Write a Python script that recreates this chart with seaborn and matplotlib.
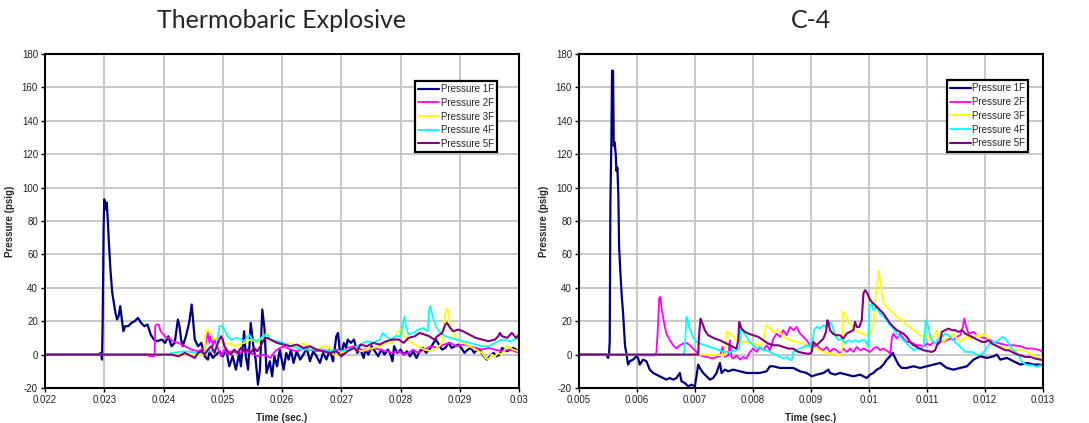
import matplotlib
matplotlib.use("Agg")
import matplotlib.pyplot as plt
import pandas as pd
import seaborn as sns

# Gauge traces, (time in ms, pressure in psig)
# ---- Thermobaric explosive ----
tb_1f = [(22.0, 0), (22.89, 0), (22.946, 1), (22.962, -3), (22.973, 19), (22.989, 75), (23.0, 93),
         (23.027, 87), (23.043, 91), (23.059, 81), (23.081, 65), (23.108, 49), (23.135, 37), (23.162, 31),
         (23.189, 25), (23.216, 21), (23.243, 23), (23.27, 29), (23.297, 21), (23.324, 14), (23.351, 17),
         (23.405, 17), (23.459, 19), (23.514, 20), (23.568, 22), (23.622, 19), (23.676, 17), (23.73, 18),
         (23.784, 12), (23.838, 9), (23.892, 8), (23.973, 9), (24.027, 7), (24.081, 11), (24.135, 5),
         (24.189, 7), (24.243, 21), (24.27, 17), (24.297, 9), (24.324, 5), (24.378, 11), (24.432, 19),
         (24.476, 30), (24.528, 9), (24.583, 5), (24.639, 7), (24.694, -1), (24.75, -3), (24.778, 2),
         (24.833, -2), (24.889, 0), (24.944, 2), (25.0, -1), (25.056, 3), (25.111, -7), (25.167, -1),
         (25.222, -9), (25.278, 1), (25.306, -7), (25.361, 14), (25.389, -1), (25.428, -9), (25.472, 19),
         (25.517, 5), (25.556, -3), (25.594, -18), (25.628, -9), (25.667, 27), (25.706, 15), (25.739, -11),
         (25.794, -4), (25.833, -13), (25.872, -1), (25.917, -7), (25.961, 3), (26.028, -9), (26.072, 1),
         (26.111, -3), (26.15, 3), (26.194, -5), (26.25, 2), (26.306, -3), (26.361, 0), (26.417, 4),
         (26.472, -4), (26.528, 2), (26.583, -1), (26.639, -5), (26.694, 1), (26.75, -3), (26.806, 3),
         (26.861, -4), (26.917, 11), (26.946, 13), (26.973, 3), (27.0, -1), (27.043, 7), (27.081, 4),
         (27.108, 9), (27.162, 7), (27.216, 9), (27.27, 1), (27.324, 3), (27.378, -2), (27.405, 3),
         (27.459, 0), (27.514, 5), (27.568, 2), (27.622, -1), (27.676, 3), (27.73, 0), (27.784, 3),
         (27.822, 1), (27.865, -4), (27.892, 5), (27.946, 1), (28.0, 3), (28.054, 0), (28.108, 2),
         (28.162, -1), (28.216, 2), (28.27, -2), (28.324, 2), (28.378, 4), (28.432, 1), (28.486, 3),
         (28.541, 6), (28.595, 9), (28.649, 6), (28.703, 3), (28.757, 4), (28.811, 7), (28.865, 4),
         (28.919, 5), (28.973, 6), (29.027, 4), (29.081, 1), (29.135, 3), (29.189, 4), (29.243, 1),
         (29.297, 3), (29.351, 2), (29.405, -1), (29.459, -3), (29.514, -1), (29.568, 1), (29.622, -1),
         (29.676, 0), (29.714, 4), (29.8, 2), (29.9, 4), (30.0, 2)]

tb_2f = [(22.0, 0), (23.74, 0), (23.76, -1), (23.85, -1), (23.86, 17), (23.88, 18), (23.92, 18),
         (23.95, 14), (24.0, 12), (24.05, 10), (24.1, 10), (24.15, 8), (24.25, 7), (24.361, 5),
         (24.472, 3), (24.583, 2), (24.694, 4), (24.75, 13), (24.778, 7), (24.806, 12), (24.833, 5),
         (24.861, 9), (24.917, 4), (24.972, -1), (25.028, 3), (25.083, 0), (25.139, 2), (25.25, 1),
         (25.361, 2), (25.472, 1), (25.583, -1), (25.694, 0), (25.75, -1), (25.806, -2), (25.861, 1),
         (25.917, 3), (25.972, 4), (26.028, 5), (26.083, 4), (26.139, 3), (26.25, 2), (26.361, 4),
         (26.472, 3), (26.583, 2), (26.694, 3), (26.806, 2), (26.917, 3), (27.0, 1), (27.108, 4),
         (27.216, 5), (27.324, 3), (27.432, 2), (27.541, 4), (27.649, 3), (27.757, 2), (27.865, 1),
         (27.973, 2), (28.054, 0), (28.135, 1), (28.216, 3), (28.297, 1), (28.405, 3), (28.514, 5),
         (28.622, 4), (28.73, 6), (28.838, 7), (28.946, 5), (29.054, 6), (29.162, 5), (29.27, 4),
         (29.378, 3), (29.486, 4), (29.595, 3), (29.703, 2), (29.85, 3), (30.0, 1)]

tb_3f = [(22.0, 0), (24.69, 0), (24.711, 14), (24.75, 15), (24.794, 13), (24.833, 9), (24.889, 10),
         (24.944, 7), (25.0, 8), (25.056, 6), (25.111, 7), (25.194, 5), (25.278, 6), (25.361, 7),
         (25.472, 9), (25.583, 7), (25.694, 11), (25.75, 13), (25.806, 9), (25.917, 7), (26.028, 6),
         (26.139, 7), (26.25, 5), (26.361, 7), (26.472, 4), (26.583, 3), (26.694, 5), (26.806, 4),
         (26.85, 1), (26.9, -1), (27.0, 1), (27.108, 3), (27.216, 4), (27.324, 2), (27.432, 3),
         (27.541, 4), (27.649, 5), (27.757, 7), (27.865, 7), (27.946, 13), (28.0, 15), (28.054, 11),
         (28.108, 9), (28.189, 7), (28.297, 5), (28.405, 3), (28.514, 2), (28.622, 4), (28.703, 7),
         (28.757, 25), (28.784, 28), (28.811, 25), (28.838, 17), (28.892, 13), (28.946, 9), (29.054, 7),
         (29.162, 5), (29.27, 3), (29.378, 1), (29.432, -2), (29.486, -3), (29.541, 0), (29.595, -1),
         (29.649, 1), (29.703, 0), (29.8, 5), (29.9, 3), (30.0, 2)]

tb_4f = [(22.0, 0), (24.1, 0), (24.139, 1), (24.361, 2), (24.583, 1), (24.806, 2), (24.889, 4),
         (24.944, 17), (25.0, 17), (25.039, 14), (25.083, 11), (25.139, 9), (25.25, 10), (25.306, 9),
         (25.361, 8), (25.444, 12), (25.5, 9), (25.583, 8), (25.639, 10), (25.694, 11), (25.75, 12),
         (25.806, 9), (25.917, 8), (26.028, 7), (26.139, 5), (26.25, 4), (26.361, 3), (26.472, 3),
         (26.583, 3), (26.694, 3), (26.806, 2), (26.917, 2), (27.0, 2), (27.108, 3), (27.216, 4),
         (27.324, 6), (27.432, 8), (27.541, 7), (27.649, 9), (27.703, 13), (27.757, 11), (27.838, 9),
         (27.919, 11), (28.0, 11), (28.038, 18), (28.07, 23), (28.092, 17), (28.135, 12), (28.216, 13),
         (28.297, 15), (28.378, 16), (28.459, 14), (28.486, 27), (28.503, 29), (28.541, 23), (28.595, 17),
         (28.676, 13), (28.757, 11), (28.838, 10), (28.946, 9), (29.054, 8), (29.162, 7), (29.27, 6),
         (29.378, 5), (29.486, 5), (29.595, 7), (29.649, 8), (29.714, 9), (29.85, 8), (30.0, 10)]

tb_5f = [(22.0, 0), (24.139, 0), (24.25, -1), (24.361, 1), (24.472, -1), (24.528, -2), (24.583, 1),
         (24.639, 2), (24.694, 0), (24.75, 3), (24.806, 5), (24.861, 1), (24.917, 7), (24.972, 11),
         (25.0, 9), (25.028, 5), (25.083, 2), (25.139, 0), (25.194, 3), (25.25, 1), (25.306, 4),
         (25.361, 2), (25.417, 3), (25.472, 1), (25.528, 4), (25.583, 2), (25.639, 5), (25.694, 9),
         (25.75, 10), (25.806, 9), (25.917, 7), (26.028, 6), (26.139, 5), (26.25, 6), (26.361, 4),
         (26.472, 5), (26.583, 3), (26.694, 2), (26.806, 1), (26.917, 2), (27.0, -1), (27.108, 2),
         (27.216, 4), (27.27, 2), (27.324, 6), (27.432, 5), (27.541, 7), (27.649, 6), (27.757, 8),
         (27.865, 9), (27.973, 9), (28.054, 7), (28.135, 10), (28.243, 11), (28.324, 13), (28.405, 12),
         (28.486, 11), (28.568, 9), (28.622, 11), (28.703, 13), (28.757, 18), (28.784, 19), (28.838, 16),
         (28.892, 14), (28.973, 15), (29.054, 14), (29.162, 12), (29.27, 10), (29.378, 9), (29.486, 8),
         (29.595, 9), (29.649, 11), (29.676, 13), (29.714, 11), (29.8, 10), (29.88, 13), (29.95, 10),
         (30.0, 12)]

# ---- C-4 ----
c4_1f = [(5.0, 0), (5.472, 0), (5.501, -2), (5.518, 0), (5.53, 8), (5.541, 90), (5.558, 128),
         (5.57, 170), (5.587, 170), (5.599, 125), (5.616, 127), (5.633, 120), (5.645, 110), (5.662, 112),
         (5.679, 95), (5.691, 65), (5.714, 49), (5.737, 35), (5.76, 25), (5.777, 15), (5.794, 5),
         (5.817, 1), (5.846, -6), (5.875, -4), (5.932, -3), (5.99, -1), (6.019, -2), (6.047, -6),
         (6.105, -3), (6.163, -4), (6.22, -9), (6.278, -11), (6.335, -12), (6.393, -13), (6.45, -14),
         (6.508, -15), (6.565, -14), (6.623, -15), (6.681, -14), (6.738, -11), (6.767, -16), (6.824, -17),
         (6.882, -19), (6.94, -18), (6.997, -19), (7.026, -13), (7.055, -6), (7.083, -8), (7.141, -11),
         (7.199, -13), (7.256, -15), (7.314, -14), (7.371, -11), (7.429, -5), (7.458, -11), (7.515, -9),
         (7.573, -10), (7.659, -9), (7.774, -10), (7.889, -11), (8.004, -11), (8.119, -11), (8.235, -10),
         (8.292, -7), (8.35, -7), (8.465, -8), (8.58, -8), (8.695, -8), (8.753, -9), (8.81, -10),
         (8.925, -11), (9.012, -13), (9.098, -12), (9.213, -11), (9.299, -9), (9.328, -11), (9.414, -12),
         (9.501, -11), (9.616, -12), (9.731, -13), (9.846, -12), (9.961, -14), (10.019, -12), (10.076, -11),
         (10.134, -9), (10.191, -8), (10.249, -6), (10.306, -3), (10.364, -1), (10.41, 1), (10.45, -2),
         (10.508, -6), (10.565, -8), (10.652, -8), (10.767, -7), (10.882, -8), (10.997, -7), (11.112, -6),
         (11.227, -5), (11.342, -8), (11.458, -9), (11.573, -8), (11.688, -7), (11.803, -3), (11.918, -1),
         (12.033, -2), (12.148, -1), (12.206, 0), (12.263, -3), (12.378, -2), (12.493, -4), (12.608, -6),
         (12.724, -5), (12.839, -6), (12.954, -6), (13.0, -7)]

c4_2f = [(5.0, 0), (6.306, -0.5), (6.335, 1.5), (6.364, 18.6), (6.381, 33.6), (6.404, 34.6),
         (6.427, 26.6), (6.45, 22.6), (6.479, 16.6), (6.508, 12.6), (6.565, 8.6), (6.623, 5.6),
         (6.681, 3.6), (6.738, 5.6), (6.796, 6.6), (6.853, 7), (6.911, 5.6), (6.968, 3.6), (7.026, 1.6),
         (7.083, -0.4), (7.141, -1), (7.199, -1.4), (7.256, -1.8), (7.314, -2.4), (7.371, -1.4),
         (7.429, -1), (7.475, 4.6), (7.515, -1.4), (7.573, -0.4), (7.601, 8.6), (7.63, -1.4),
         (7.659, -2.4), (7.716, -0.4), (7.774, -3), (7.832, -1.4), (7.889, -2.4), (7.947, 1.6),
         (8.004, 3.6), (8.062, 1.6), (8.119, 4.6), (8.177, 2.6), (8.235, 5.6), (8.292, 2.6), (8.35, 9.6),
         (8.407, 12.6), (8.465, 10.6), (8.522, 14.6), (8.58, 11.6), (8.637, 16.6), (8.695, 14.6),
         (8.753, 16.6), (8.81, 12.6), (8.868, 10.6), (8.925, 8.6), (8.983, 5.6), (9.04, 4.6), (9.098, 5.6),
         (9.155, 3.6), (9.213, 2.6), (9.271, 4.6), (9.328, 1.6), (9.386, 3.6), (9.443, 2.6), (9.501, 0.6),
         (9.558, 3.6), (9.616, 1.6), (9.673, 3.6), (9.731, 1.6), (9.788, 4.6), (9.846, 2.6), (9.904, 3.6),
         (9.961, 2.6), (10.019, 1.6), (10.076, 3.6), (10.134, 4.6), (10.191, 2.6), (10.249, 3.6),
         (10.335, 1.6), (10.364, 0.6), (10.393, 9.6), (10.421, 12.6), (10.479, 9.6), (10.537, 12.6),
         (10.594, 9.6), (10.652, 7.6), (10.709, 7.6), (10.767, 6.6), (10.824, 5.6), (10.882, 5.6),
         (10.939, 4.6), (10.997, 6.6), (11.055, 5.6), (11.112, 7.6), (11.17, 6.6), (11.227, 8.6),
         (11.285, 7.6), (11.342, 8.6), (11.4, 9.6), (11.458, 8.6), (11.515, 10.6), (11.573, 11.6),
         (11.619, 16.6), (11.642, 21.6), (11.676, 16.6), (11.717, 12.6), (11.803, 13.6), (11.86, 11.6),
         (11.918, 10.6), (12.033, 9.6), (12.148, 7.6), (12.263, 6.6), (12.378, 5.6), (12.493, 5.6),
         (12.608, 5), (12.724, 3.6), (12.839, 3.6), (12.954, 2.6), (13.0, 1)]

c4_3f = [(5.0, 0), (7.03, 0), (7.515, -0.4), (7.544, 13.6), (7.601, 12.6), (7.659, 10.6), (7.716, 8.6),
         (7.774, 7.6), (7.889, 7.6), (8.004, 6.6), (8.119, 5.6), (8.177, 7.6), (8.223, 17.6), (8.292, 15.6),
         (8.35, 13.6), (8.436, 14.6), (8.522, 10.6), (8.637, 8.6), (8.753, 7.6), (8.868, 6.6), (8.983, 4.6),
         (9.098, 3.6), (9.213, 1.6), (9.328, 0.6), (9.443, 0.2), (9.53, 0.2), (9.547, 25.6), (9.587, 24.6),
         (9.644, 19.6), (9.702, 17.6), (9.76, 14.6), (9.817, 13.6), (9.875, 12.6), (9.932, 11.6),
         (10.019, 12.6), (10.076, 16.6), (10.105, 32.6), (10.145, 42.6), (10.168, 50.6), (10.191, 44.6),
         (10.22, 36.6), (10.249, 30.6), (10.306, 28.6), (10.364, 26.6), (10.421, 24.6), (10.479, 22.6),
         (10.537, 21.6), (10.594, 19.6), (10.652, 17.6), (10.709, 16.6), (10.767, 14.6), (10.824, 13.6),
         (10.882, 11.6), (10.939, 10.6), (10.997, 11.6), (11.055, 8.6), (11.112, 10.6), (11.17, 14.6),
         (11.227, 8.6), (11.285, 7.6), (11.342, 9.6), (11.4, 11.6), (11.458, 12.6), (11.515, 9.6),
         (11.573, 7.6), (11.63, 9.6), (11.688, 10.6), (11.745, 9.6), (11.803, 10.6), (11.86, 11.6),
         (11.918, 10.6), (11.975, 12.6), (12.033, 10.6), (12.091, 7.6), (12.148, 5.6), (12.263, 4.6),
         (12.378, 3.6), (12.493, 2.6), (12.608, 3), (12.724, 1.6), (12.839, -0.4), (12.954, -2.4),
         (13.0, -3.4)]

c4_4f = [(5.0, 0), (6.807, 0), (6.824, 4.6), (6.853, 22.6), (6.87, 21.6), (6.899, 16.6), (6.94, 12.6),
         (6.98, 9.6), (7.026, 7.6), (7.083, 6.6), (7.17, 5.6), (7.256, 4.6), (7.342, 3.6), (7.429, 2.6),
         (7.515, 1.6), (7.601, 1.6), (7.688, 2.2), (7.763, 3.6), (7.791, 16.6), (7.832, 13.6),
         (7.889, 10.6), (7.947, 7.6), (8.004, 5.6), (8.062, 3.6), (8.119, 4.6), (8.177, 2.6), (8.235, 2.6),
         (8.292, 1.6), (8.35, 0.6), (8.407, -0.4), (8.465, -1.4), (8.522, -2.4), (8.58, -1.4), (8.637, -3),
         (8.666, -3.4), (8.695, 1.6), (8.753, 2.6), (8.81, 3.6), (8.868, 4.6), (8.925, 5.6), (8.983, 4.6),
         (9.029, 8.6), (9.052, 14.6), (9.098, 16.6), (9.155, 15.6), (9.213, 17.6), (9.271, 16.6),
         (9.328, 19.6), (9.374, 16.6), (9.414, 11.6), (9.472, 8.6), (9.53, 9.6), (9.587, 6.6), (9.644, 8.6),
         (9.702, 7.6), (9.76, 8.6), (9.817, 7.6), (9.875, 8.6), (9.932, 8.6), (9.99, 4.6), (10.007, 28.6),
         (10.047, 30.6), (10.076, 26.6), (10.134, 28.6), (10.191, 24.6), (10.249, 22.6), (10.306, 20.6),
         (10.364, 17.6), (10.421, 15.6), (10.479, 12.6), (10.537, 10.6), (10.594, 8.6), (10.652, 6.6),
         (10.709, 4.6), (10.767, 2.6), (10.824, 3.6), (10.882, 3), (10.939, 4.6), (10.98, 20.6),
         (11.009, 18.6), (11.043, 12.6), (11.083, 8.6), (11.141, 6.6), (11.198, 9.6), (11.256, 10.6),
         (11.313, 12.6), (11.371, 11.6), (11.429, 9.6), (11.486, 7.6), (11.544, 5.6), (11.601, 3.6),
         (11.659, 1.6), (11.717, 1.6), (11.774, 1.6), (11.832, 0.6), (11.889, -0.4), (11.947, 0.6),
         (12.004, 2.6), (12.062, 5.6), (12.119, 7.6), (12.177, 7.6), (12.234, 8.6), (12.292, 10.6),
         (12.35, 9.6), (12.407, 6.6), (12.465, 3.6), (12.522, 1.6), (12.58, -0.4), (12.637, -4.4),
         (12.724, -6.4), (12.81, -6.4), (12.896, -7.4), (12.954, -6.4), (13.0, -7.4)]

c4_5f = [(5.0, 0), (7.055, 0), (7.072, 12.6), (7.095, 21.6), (7.129, 18.6), (7.17, 14.6), (7.227, 11.6),
         (7.285, 10.6), (7.342, 9.6), (7.429, 8.6), (7.486, 7.6), (7.544, 6.6), (7.601, 5.6), (7.659, 4.6),
         (7.716, 3.6), (7.745, 8.6), (7.763, 19.6), (7.803, 15.6), (7.86, 13.6), (7.918, 12.6),
         (8.004, 11.6), (8.091, 10.6), (8.177, 8.6), (8.263, 6.6), (8.35, 5.6), (8.436, 5.6), (8.522, 4.6),
         (8.609, 3.6), (8.695, 3.6), (8.781, 1.6), (8.868, 1), (8.925, 0.6), (8.994, 0.6), (9.012, 1.6),
         (9.04, 7.6), (9.098, 5.6), (9.155, 7.6), (9.213, 9.6), (9.259, 13.6), (9.282, 20.6),
         (9.305, 18.6), (9.328, 14.6), (9.374, 12.6), (9.432, 11.6), (9.501, 11.6), (9.558, 9.6),
         (9.616, 12.6), (9.673, 13.6), (9.731, 14.6), (9.76, 19.6), (9.788, 16.6), (9.834, 16.6),
         (9.875, 20.6), (9.904, 36.6), (9.932, 38.6), (9.973, 36.6), (10.019, 32.6), (10.076, 30.6),
         (10.134, 28.6), (10.191, 26.6), (10.249, 24.6), (10.306, 21.6), (10.364, 18.6), (10.421, 16.6),
         (10.479, 14.6), (10.537, 13.6), (10.594, 12.6), (10.652, 10.6), (10.709, 7.6), (10.767, 5.6),
         (10.824, 4.6), (10.882, 3.6), (10.939, 2.6), (10.997, 2.2), (11.083, 1.6), (11.141, 2.6),
         (11.17, 5.6), (11.227, 7.6), (11.256, 13.6), (11.313, 14.6), (11.371, 15.6), (11.429, 14.6),
         (11.486, 14.6), (11.544, 13.6), (11.601, 14.6), (11.659, 12.6), (11.717, 11.6), (11.774, 10.6),
         (11.832, 9.6), (11.889, 8.6), (11.947, 7.6), (12.004, 7.6), (12.062, 8.6), (12.119, 6.6),
         (12.177, 5.6), (12.234, 4.6), (12.292, 3.6), (12.35, 2.6), (12.407, 2.6), (12.465, 1.6),
         (12.522, 0.6), (12.608, -0.4), (12.695, -1.4), (12.781, -1.4), (12.868, -2.4), (12.954, -3),
         (13.0, -3.4)]

sensors = ["Pressure 1F", "Pressure 2F", "Pressure 3F", "Pressure 4F", "Pressure 5F"]
colors = ["#000080", "#FF00FF", "#FFFF00", "#00FFFF", "#800080"]
widths = [1.6, 1.3, 1.3, 1.3, 1.5]

y_ticks = [-20, 0, 20, 40, 60, 80, 100, 120, 140, 160, 180]
tb_xticks = [0.022, 0.023, 0.024, 0.025, 0.026, 0.027, 0.028, 0.029, 0.030]
tb_xlabels = ["0.022", "0.023", "0.024", "0.025", "0.026", "0.027", "0.028", "0.029", "0.03"]
c4_xticks = [0.005, 0.006, 0.007, 0.008, 0.009, 0.010, 0.011, 0.012, 0.013]
c4_xlabels = ["0.005", "0.006", "0.007", "0.008", "0.009", "0.01", "0.011", "0.012", "0.013"]

sns.set_style("white")
plt.rcParams["font.family"] = ["Liberation Sans", "DejaVu Sans"]

W, H = 1089, 423
fig = plt.figure(figsize=(W / 100, H / 100), dpi=100)
fig.patch.set_facecolor("white")
ax_tb = fig.add_axes([45 / W, 35 / H, 474 / W, 334 / H])
ax_c4 = fig.add_axes([579 / W, 35 / H, 464 / W, 334 / H])


def draw_panel(ax, traces, xticks, xlabels, legend_anchor, textpad):
    for name, pts, color, lw in zip(sensors, traces, colors, widths):
        df = pd.DataFrame(pts, columns=["ms", "psig"])
        df["sec"] = df["ms"] / 1000.0
        sns.lineplot(data=df, x="sec", y="psig", ax=ax, color=color, lw=lw,
                     label=name, estimator=None, sort=False)
    ax.set_xlim(xticks[0], xticks[-1])
    ax.set_ylim(-20, 180)
    ax.set_xticks(xticks)
    ax.set_xticklabels(xlabels)
    ax.set_yticks(y_ticks)
    ax.set_yticklabels([str(v) for v in y_ticks])
    ax.grid(True, color="#c4c4c4", lw=1.3)
    ax.set_axisbelow(True)
    for sp in ax.spines.values():
        sp.set_visible(True)
        sp.set_color("black")
        sp.set_linewidth(1.5)
    ax.tick_params(axis="both", direction="out", length=3, width=1, color="black",
                   labelsize=7, labelcolor="#222222", pad=2,
                   bottom=True, left=True)
    ax.set_xlabel("Time (sec.)", fontsize=7, fontweight="bold", labelpad=6)
    ax.set_ylabel("Pressure (psig)", fontsize=7, fontweight="bold", labelpad=5)
    leg = ax.legend(loc="upper left", bbox_to_anchor=legend_anchor, fontsize=7,
                    frameon=True, fancybox=False, edgecolor="black", framealpha=1,
                    borderpad=0.35, labelspacing=0.38, handlelength=2.1,
                    handletextpad=textpad, borderaxespad=0)
    leg.get_frame().set_linewidth(1.6)


draw_panel(ax_tb, [tb_1f, tb_2f, tb_3f, tb_4f, tb_5f], tb_xticks, tb_xlabels, (0.78, 0.92), 0.25)
draw_panel(ax_c4, [c4_1f, c4_2f, c4_3f, c4_4f, c4_5f], c4_xticks, c4_xlabels, (0.793, 0.922), 0.12)

fig.text(282 / W, 1 - 21 / H, "Thermobaric Explosive", ha="center", va="center",
         fontsize=18, family=["Lato", "DejaVu Sans"])
fig.text(811 / W, 1 - 21 / H, "C-4", ha="center", va="center",
         fontsize=18, family=["Lato", "DejaVu Sans"])

fig.savefig("out.png", dpi=100, facecolor="white")
